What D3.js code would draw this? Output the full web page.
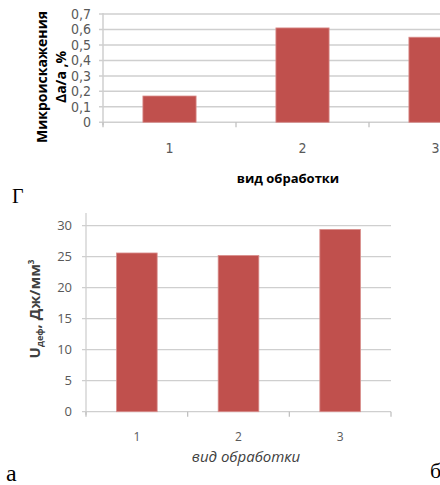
<!DOCTYPE html>
<html>
<head>
<meta charset="utf-8">
<script src="https://cdn.jsdelivr.net/npm/d3@7"></script>
<style>
  html, body { margin: 0; padding: 0; background: #fff; }
  svg { display: block; }
</style>
</head>
<body>
<svg id="chart" width="440" height="485"></svg>
<script>
// data
const categories = ["1", "2", "3"];
const microValues = [0.17, 0.61, 0.55];       // верхний график, %
const microTicks = [0, 0.1, 0.2, 0.3, 0.4, 0.5, 0.6, 0.7];
const energyValues = [25.6, 25.2, 29.4];      // нижний график, Дж/мм3
const energyTicks = [0, 5, 10, 15, 20, 25, 30];

const barColor = "#c0504d";
const gridColor = "#cfcfcf";
const svg = d3.select("#chart");

function drawPanel(opts) {
  const g = svg.append("g");
  const x = d3.scaleBand().domain(categories)
    .range([opts.x0, opts.x1]).paddingInner(0.6).paddingOuter(0.3);
  const y = d3.scaleLinear().domain(opts.domain).range([opts.y0, opts.y1]);

  // gridlines
  g.selectAll("line.grid").data(opts.ticks).enter().append("line")
    .attr("x1", opts.x0 - 4).attr("x2", opts.gridEnd)
    .attr("y1", d => y(d)).attr("y2", d => y(d))
    .attr("stroke", gridColor).attr("stroke-width", opts.gridW);

  // y axis line
  g.append("line")
    .attr("x1", opts.x0).attr("x2", opts.x0)
    .attr("y1", opts.axisTop).attr("y2", opts.y0 + 3)
    .attr("stroke", gridColor).attr("stroke-width", opts.gridW);

  // x category ticks
  const bounds = [opts.x0].concat(categories.map(c => x(c) + x.bandwidth() + x.step() * 0.3));
  g.selectAll("line.xt").data(bounds).enter().append("line")
    .attr("x1", d => d).attr("x2", d => d)
    .attr("y1", opts.y0).attr("y2", opts.y0 + 5)
    .attr("stroke", "#bdbdbd").attr("stroke-width", 1.2);

  // y tick labels
  g.selectAll("text.yt").data(opts.ticks).enter().append("text")
    .attr("x", opts.labelX).attr("y", d => y(d)).attr("dy", "0.35em")
    .attr("text-anchor", "end")
    .style("font-family", opts.tickFont).style("font-size", opts.tickSize + "px")
    .attr("fill", "#595959")
    .text(opts.fmt);

  // bars
  g.selectAll("rect.bar").data(opts.values).enter().append("rect")
    .attr("x", (d, i) => x(categories[i]))
    .attr("width", x.bandwidth())
    .attr("y", d => y(d))
    .attr("height", d => opts.y0 - y(d))
    .attr("fill", barColor)
    .attr("stroke", "#d98f8d").attr("stroke-width", 0.8);

  // category labels
  g.selectAll("text.cat").data(categories).enter().append("text")
    .attr("x", d => x(d) + x.bandwidth() / 2).attr("y", opts.catY)
    .attr("text-anchor", "middle")
    .style("font-family", opts.tickFont).style("font-size", opts.catSize + "px")
    .attr("fill", "#595959")
    .text(d => d);

  return { x, y };
}

// верхняя диаграмма (г)
drawPanel({
  x0: 103, x1: 502, y0: 122.3, y1: 14, axisTop: 13, gridEnd: 445, gridW: 1.5,
  domain: [0, 0.7], ticks: microTicks, values: microValues,
  labelX: 91, catY: 153, tickSize: 14, catSize: 14,
  tickFont: "'Liberation Sans Narrow', 'DejaVu Sans Condensed', sans-serif",
  fmt: d => d3.format(".1f")(d).replace(".", ",").replace(/^0,0$/, "0")
});

svg.append("text")
  .attr("x", 288).attr("y", 183).attr("text-anchor", "middle")
  .style("font-family", "'Open Sans', sans-serif").style("font-size", "13px")
  .style("font-weight", "bold").attr("fill", "#000")
  .text("вид обработки");

const yt1 = svg.append("text")
  .attr("transform", "translate(0,77) rotate(-90)")
  .attr("text-anchor", "middle")
  .style("font-family", "'Open Sans', sans-serif").style("font-size", "14px")
  .style("font-weight", "bold").attr("fill", "#000");
yt1.append("tspan").attr("x", 0).attr("y", 47).text("Микроискажения");
yt1.append("tspan").attr("x", 0).attr("y", 66).text("Δа/а ,%");

// нижняя диаграмма (а)
drawPanel({
  x0: 86, x1: 391, y0: 411.7, y1: 225.7, axisTop: 213, gridEnd: 391, gridW: 1.3,
  domain: [0, 30], ticks: energyTicks, values: energyValues,
  labelX: 72, catY: 441, tickSize: 13, catSize: 12,
  tickFont: "'Open Sans', sans-serif",
  fmt: d => d
});

svg.append("text")
  .attr("x", 246).attr("y", 462).attr("text-anchor", "middle")
  .style("font-family", "'Open Sans', sans-serif").style("font-size", "15px")
  .style("font-style", "italic").attr("fill", "#404040")
  .text("вид обработки");

const yt2 = svg.append("text")
  .attr("transform", "translate(40,309) rotate(-90)")
  .attr("text-anchor", "middle")
  .style("font-family", "'Open Sans', sans-serif").style("font-size", "15px")
  .style("font-weight", "bold").attr("fill", "#404040");
yt2.append("tspan").text("U");
yt2.append("tspan").style("font-size", "9px").attr("dy", "3").text("деф");
yt2.append("tspan").attr("dy", "-3").text(", Дж/мм");
yt2.append("tspan").style("font-size", "8px").attr("dy", "-6").text("3");

// подписи панелей
const letters = [
  { t: "Г", x: 12, y: 203, s: 20 },
  { t: "а", x: 6, y: 481, s: 24 },
  { t: "б", x: 430, y: 478, s: 22 }
];
svg.selectAll("text.letter").data(letters).enter().append("text")
  .attr("x", d => d.x).attr("y", d => d.y)
  .style("font-family", "'Liberation Serif', 'DejaVu Serif', serif")
  .style("font-size", d => d.s + "px").attr("fill", "#000")
  .text(d => d.t);
</script>
</body>
</html>
